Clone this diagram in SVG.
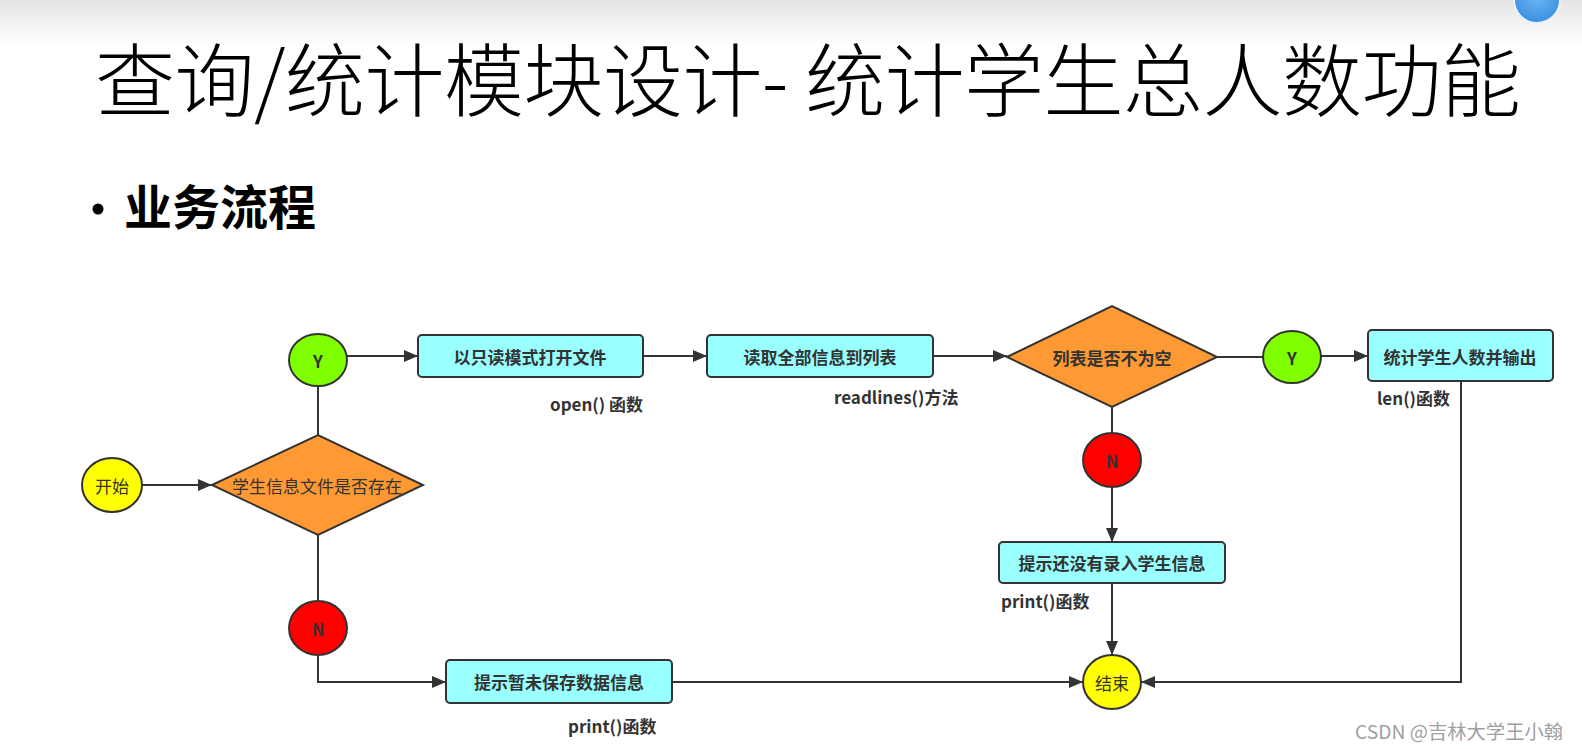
<svg xmlns="http://www.w3.org/2000/svg" width="1582" height="749" viewBox="0 0 1582 749">
<style>
.ln{fill:none;stroke:#333;stroke-width:2}
.box{fill:#99FFFF;stroke:#333;stroke-width:2}
.dia{fill:#FF9933;stroke:#333;stroke-width:2}
.yes{fill:#80FF00;stroke:#333;stroke-width:2}
.no{fill:#FF0000;stroke:#333;stroke-width:2}
.term{fill:#FFFF00;stroke:#333;stroke-width:2}
.t{font-family:"Noto Sans CJK SC","Noto Sans",sans-serif;font-size:17px;fill:#333;text-anchor:middle;dominant-baseline:central}
.b{font-weight:bold}
.lab{font-family:"Noto Sans CJK SC","Noto Sans",sans-serif;font-size:17px;font-weight:bold;fill:#333}
</style>
<defs>
<marker id="arr" viewBox="0 0 14 12" refX="14" refY="6" markerWidth="14" markerHeight="12" markerUnits="userSpaceOnUse" orient="auto">
<path d="M0,0 L14,6 L0,12 z" fill="#333"/>
</marker>
<linearGradient id="topg" x1="0" y1="0" x2="0" y2="1">
<stop offset="0" stop-color="#e4e4e4"/>
<stop offset="1" stop-color="#ffffff"/>
</linearGradient>
<radialGradient id="blu" cx="0.5" cy="0.4" r="0.6">
<stop offset="0" stop-color="#6fb8f5"/>
<stop offset="1" stop-color="#3b8fe0"/>
</radialGradient>
</defs>
<rect x="0" y="0" width="1582" height="749" fill="#fff"/>
<rect x="0" y="0" width="1582" height="45" fill="url(#topg)"/>
<circle cx="1537" cy="0" r="23" fill="url(#blu)" stroke="#e8f2fc" stroke-width="2"/>

<text x="95" y="110" font-family="'Noto Sans CJK SC','Noto Sans',sans-serif" font-size="80" font-weight="300" fill="#000" textLength="1426" lengthAdjust="spacing">查询/统计模块设计- 统计学生总人数功能</text>
<circle cx="98" cy="209" r="5.5" fill="#000"/>
<text x="124" y="225" font-family="'Noto Sans CJK SC',sans-serif" font-size="48" font-weight="bold" fill="#000">业务流程</text>

<g id="connectors">
<line class="ln" x1="142" y1="485" x2="212" y2="485" marker-end="url(#arr)"/>
<line class="ln" x1="318" y1="435" x2="318" y2="386"/>
<line class="ln" x1="347" y1="356" x2="418" y2="356" marker-end="url(#arr)"/>
<line class="ln" x1="643" y1="356" x2="707" y2="356" marker-end="url(#arr)"/>
<line class="ln" x1="933" y1="356" x2="1007" y2="356" marker-end="url(#arr)"/>
<line class="ln" x1="1217" y1="357" x2="1263" y2="357"/>
<line class="ln" x1="1321" y1="356" x2="1368" y2="356" marker-end="url(#arr)"/>
<line class="ln" x1="1112" y1="407" x2="1112" y2="433"/>
<line class="ln" x1="1112" y1="487" x2="1112" y2="542" marker-end="url(#arr)"/>
<line class="ln" x1="1112" y1="583" x2="1112" y2="655" marker-end="url(#arr)"/>
<polyline class="ln" points="1461,382 1461,682 1141,682" marker-end="url(#arr)"/>
<line class="ln" x1="318" y1="535" x2="318" y2="601"/>
<polyline class="ln" points="318,655 318,682 446,682" marker-end="url(#arr)"/>
<line class="ln" x1="672" y1="682" x2="1083" y2="682" marker-end="url(#arr)"/>
</g>

<g id="start"><ellipse class="term" cx="112" cy="485" rx="30" ry="27"/><text class="t" x="112" y="485">开始</text></g>
<g id="decision1"><polygon class="dia" points="212,485 318,435 423,485 318,535"/><text class="t" x="317" y="485">学生信息文件是否存在</text></g>
<g id="yes1"><ellipse class="yes" cx="318" cy="360" rx="29" ry="26"/><text class="t b" x="318" y="360">Y</text></g>
<g id="no1"><ellipse class="no" cx="318" cy="628" rx="29" ry="27"/><text class="t b" x="318" y="628">N</text></g>
<g id="open"><rect class="box" x="418" y="335" width="225" height="42" rx="4"/><text class="t b" x="530" y="356">以只读模式打开文件</text></g>
<g id="read"><rect class="box" x="707" y="335" width="226" height="42" rx="4"/><text class="t b" x="820" y="356">读取全部信息到列表</text></g>
<g id="decision2"><polygon class="dia" points="1007,357 1112,306 1217,357 1112,407"/><text class="t b" x="1112" y="357">列表是否不为空</text></g>
<g id="yes2"><ellipse class="yes" cx="1292" cy="357" rx="29" ry="26"/><text class="t b" x="1292" y="357">Y</text></g>
<g id="count"><rect class="box" x="1368" y="330" width="185" height="51" rx="4"/><text class="t b" x="1460" y="356">统计学生人数并输出</text></g>
<g id="no2"><ellipse class="no" cx="1112" cy="460" rx="29" ry="27"/><text class="t b" x="1112" y="460">N</text></g>
<g id="hint2"><rect class="box" x="999" y="542" width="226" height="41" rx="4"/><text class="t b" x="1112" y="562">提示还没有录入学生信息</text></g>
<g id="end"><ellipse class="term" cx="1112" cy="682" rx="29" ry="27"/><text class="t" x="1112" y="682">结束</text></g>
<g id="hint1"><rect class="box" x="446" y="660" width="226" height="43" rx="4"/><text class="t b" x="559" y="681">提示暂未保存数据信息</text></g>

<g id="labels">
<text class="lab" x="550" y="411">open() 函数</text>
<text class="lab" x="834" y="404">readlines()方法</text>
<text class="lab" x="1377" y="405">len()函数</text>
<text class="lab" x="1001" y="608">print()函数</text>
<text class="lab" x="568" y="733">print()函数</text>
</g>
<text x="1355" y="739" font-family="'Noto Sans CJK SC',sans-serif" font-size="19" fill="#a0a0a0" textLength="208" lengthAdjust="spacingAndGlyphs">CSDN @吉林大学王小翰</text>
</svg>
